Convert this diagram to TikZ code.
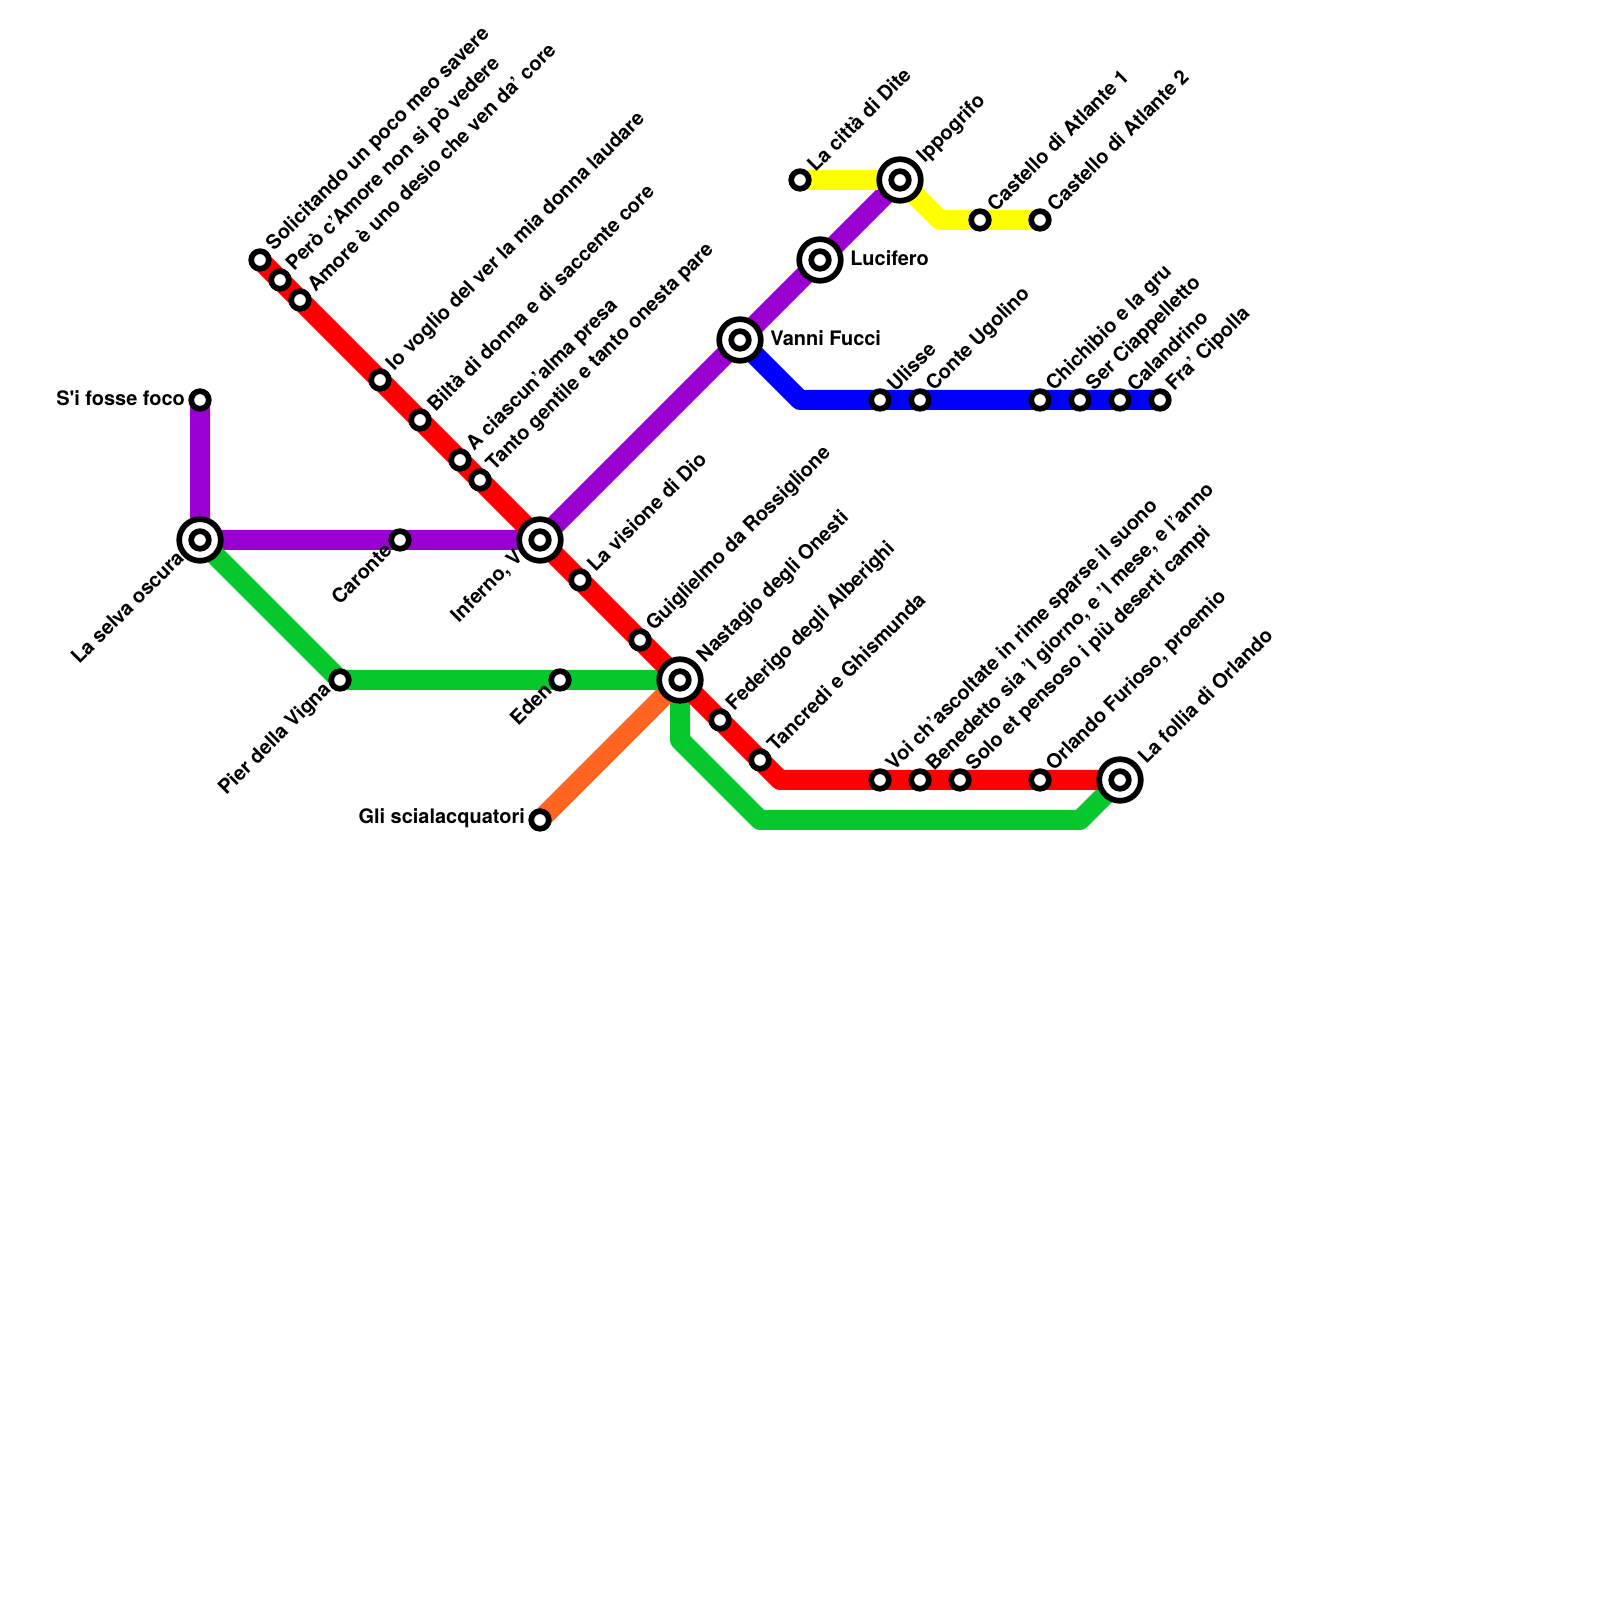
\documentclass[tikz,border=0pt]{standalone}
\usepackage{fontspec}
\setmainfont{TeX Gyre Heros}
\usetikzlibrary{backgrounds}
\definecolor{linered}{RGB}{255,0,0}
\definecolor{linepurple}{RGB}{155,0,211}
\definecolor{linegreen}{RGB}{6,200,44}
\definecolor{lineorange}{RGB}{255,100,32}
\definecolor{lineblue}{RGB}{0,0,255}
\definecolor{lineyellow}{RGB}{255,255,0}
\begin{document}
\begin{tikzpicture}[font=\bfseries\fontsize{14.2}{17}\selectfont, label distance=0.08cm,
  stop/.style={circle, draw=black, fill=white, line width=0.1425cm, minimum size=0.44cm, inner sep=0pt},
  hub/.style={circle, draw=black, fill=white, line width=0.1425cm, minimum size=1.04cm, inner sep=0pt,
    path picture={\draw[black, line width=0.1425cm] (path picture bounding box.center) circle (0.22cm);}},
  metro/.style={line width=0.5cm, line join=round},
  nameup/.style={rotate=45, anchor=west, inner sep=0.03cm, xshift=0.02cm, yshift=-0.02cm},
  namedown/.style={rotate=45, anchor=east, inner sep=0.03cm, xshift=0.05cm, yshift=0.15cm},
  hubup/.style={nameup, xshift=0.03cm, yshift=-0.05cm},
  hubdown/.style={namedown, xshift=0.03cm, yshift=0.01cm},
  nameside/.style={inner sep=0pt, yshift=0.05cm},
  hubside/.style={inner sep=0.08cm, yshift=0.05cm}]
\useasboundingbox (0,0) rectangle (40,40);
\node[hub, label={[hubdown]225:La selva oscura}] (selva) at (5,26.5) {};
\node[stop, label={[nameside]180:S\textquotesingle i fosse foco}] (fosse) at (5,30) {};
\node[stop, label={[namedown]225:Caronte}] (caronte) at (10,26.5) {};
\node[hub, label={[hubdown]225:Inferno, V}] (inferno) at (13.5,26.5) {};
\node[stop, label={[namedown]225:Pier della Vigna}] (vigna) at (8.5,23) {};
\node[stop, label={[namedown]225:Eden}] (eden) at (14,23) {};
\node[hub, label={[hubup]45:Nastagio degli Onesti}] (nastagio) at (17,23) {};
\node[stop, label={[nameside]180:Gli scialacquatori}] (scialacquatori) at (13.5,19.5) {};
\node[stop, label={[nameup]45:Solicitando un poco meo savere}] (solicitando) at (6.5,33.5) {};
\node[stop, label={[nameup]45:Però c’Amore non si pò vedere}] (pero) at (7,33) {};
\node[stop, label={[nameup]45:Amore è uno desio che ven da’ core}] (amore) at (7.5,32.5) {};
\node[stop, label={[nameup]45:Io voglio del ver la mia donna laudare}] (voglio) at (9.5,30.5) {};
\node[stop, label={[nameup]45:Biltà di donna e di saccente core}] (bilta) at (10.5,29.5) {};
\node[stop, label={[nameup]45:A ciascun’alma presa}] (ciascun) at (11.5,28.5) {};
\node[stop, label={[nameup]45:Tanto gentile e tanto onesta pare}] (tanto) at (12,28) {};
\node[stop, label={[nameup]45:La visione di Dio}] (visione) at (14.5,25.5) {};
\node[stop, label={[nameup]45:Guiglielmo da Rossiglione}] (guiglielmo) at (16,24) {};
\node[stop, label={[nameup]45:Federigo degli Alberighi}] (federigo) at (18,22) {};
\node[stop, label={[nameup]45:Tancredi e Ghismunda}] (tancredi) at (19,21) {};
\node[stop, label={[nameup]45:Voi ch’ascoltate in rime sparse il suono}] (voi) at (22,20.5) {};
\node[stop, label={[nameup]45:Benedetto sia ’l giorno, e ’l mese, e l’anno}] (benedetto) at (23,20.5) {};
\node[stop, label={[nameup]45:Solo et pensoso i più deserti campi}] (solo) at (24,20.5) {};
\node[stop, label={[nameup]45:Orlando Furioso, proemio}] (orlando) at (26,20.5) {};
\node[hub, label={[hubup]45:La follia di Orlando}] (follia) at (28,20.5) {};
\node[hub, label={[hubside]0:Vanni Fucci}] (vanni) at (18.5,31.5) {};
\node[hub, label={[hubside]0:Lucifero}] (lucifero) at (20.5,33.5) {};
\node[hub, label={[hubup]45:Ippogrifo}] (ippogrifo) at (22.5,35.5) {};
\node[stop, label={[nameup]45:La città di Dite}] (dite) at (20,35.5) {};
\node[stop, label={[nameup]45:Castello di Atlante 1}] (atlanteA) at (24.5,34.5) {};
\node[stop, label={[nameup]45:Castello di Atlante 2}] (atlanteB) at (26,34.5) {};
\node[stop, label={[nameup]45:Ulisse}] (ulisse) at (22,30) {};
\node[stop, label={[nameup]45:Conte Ugolino}] (ugolino) at (23,30) {};
\node[stop, label={[nameup]45:Chichibio e la gru}] (chichibio) at (26,30) {};
\node[stop, label={[nameup]45:Ser Ciappelletto}] (ciappelletto) at (27,30) {};
\node[stop, label={[nameup]45:Calandrino}] (calandrino) at (28,30) {};
\node[stop, label={[nameup]45:Fra’ Cipolla}] (cipolla) at (29,30) {};
% bends
\coordinate (redbend) at (19.5,20.5);
\coordinate (greenA) at (17,21.5);
\coordinate (greenB) at (19,19.5);
\coordinate (greenC) at (27,19.5);
\coordinate (bluebend) at (20,30);
\coordinate (yellowbend) at (23.5,34.5);
\begin{pgfonlayer}{background}
\draw[metro, linepurple] (fosse.center)--(selva.center)--(inferno.center)--(ippogrifo.center);
\draw[metro, linegreen] (selva.center)--(vigna.center)--(nastagio.center)--(greenA)--(greenB)--(greenC)--(follia.center);
\draw[metro, lineorange] (scialacquatori.center)--(nastagio.center);
\draw[metro, linered] (solicitando.center)--(redbend)--(follia.center);
\draw[metro, lineblue] (vanni.center)--(bluebend)--(cipolla.center);
\draw[metro, lineyellow] (dite.center)--(ippogrifo.center)--(yellowbend)--(atlanteB.center);
\end{pgfonlayer}
\end{tikzpicture}
\end{document}
